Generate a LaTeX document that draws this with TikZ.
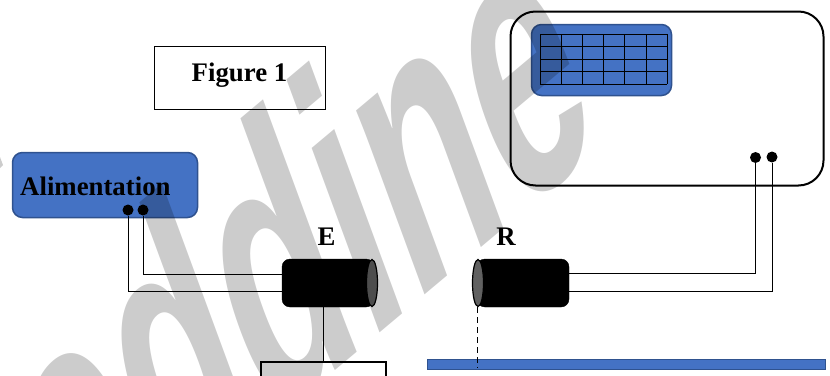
\documentclass[tikz,border=0pt]{standalone}
\usepackage{fontspec}
\setmainfont{Liberation Serif}
\newfontfamily\markfont{Liberation Sans}
\usepackage{tikz}
\usetikzlibrary{shapes.geometric}
\definecolor{panelblue}{HTML}{4472C4}
\definecolor{paneledge}{HTML}{2F528F}
\tikzset{
  label/.style={font=\fontsize{26.8}{30}\selectfont\bfseries, inner sep=0pt},
  panel/.style={draw=paneledge, fill=panelblue, line width=1.5pt, rounded corners=10pt, inner sep=0pt},
  wire/.style={line width=1pt},
  pin/.style={circle, fill=black, minimum size=11pt, inner sep=0pt},
  tube/.style={draw=black, fill=black, rounded corners=8pt, minimum width=92pt, minimum height=48pt, inner sep=0pt},
  tubecap/.style={ellipse, draw=black, fill=black!62, line width=1.2pt, minimum width=11pt, minimum height=47pt, inner sep=0pt}
}
\begin{document}
\begin{tikzpicture}[x=1pt,y=-1pt]
             \useasboundingbox (0,0) rectangle (830,375);

             \node[draw, line width=.8pt, minimum width=171pt, minimum height=63pt, inner sep=0pt] (fig) at (240, 77.5) {};
             \node[label, anchor=base] (figtext) at (239.5, 81.5) {Figure 1};

             \node[panel, minimum width=185pt, minimum height=65pt] (alim) at (105, 185) {};
             \node[label, anchor=base west] (alimtext) at (20, 195) {Alimentation};
             \node[pin] (pa) at (128, 210) {};
             \node[pin] (pb) at (143, 210) {};

             \node[tube] (em) at (328, 283) {};
             \node[tubecap] (emcap) at (372, 283) {};
             \node[tube] (re) at (523, 283) {};
             \node[tubecap] (recap) at (478, 283) {};
             \node[label, anchor=base] (etext) at (326.5, 245) {E};
             \node[label, anchor=base] (rtext) at (506, 245) {R};

             \node[draw, line width=2pt, rounded corners=25pt, minimum width=313pt, minimum height=174pt, inner sep=0pt] (screen) at (667, 98.5) {};
             \node[panel, minimum width=140pt, minimum height=71pt] (disp) at (601.5, 60) {};
             \foreach \i in {0,...,6}
               \draw[line width=.8pt] (540+\i*21.2, 34) -- (540+\i*21.2, 84.4);
             \foreach \j in {0,...,4}
               \draw[line width=.8pt] (540, 34+\j*12.6) -- (667.2, 34+\j*12.6);
             \node[pin] (pc) at (755.5, 157.5) {};
             \node[pin] (pd) at (772, 157) {};

             \node[draw, line width=1.6pt, minimum width=125pt, minimum height=40pt, inner sep=0pt, anchor=north west] (box) at (260, 361) {};
             \node[draw=paneledge, fill=panelblue, line width=1.5pt, minimum width=398pt, minimum height=10pt, inner sep=0pt, anchor=north west] (bar) at (426.5, 358.5) {};

             \coordinate (e1) at (283, 274);
             \coordinate (e2) at (283, 291);
             \coordinate (r1) at (569, 273);
             \coordinate (r2) at (569, 291);
             \coordinate (d1) at (477, 307);
             \coordinate (d2) at (477, 368);
             \coordinate (s1) at (323, 307);
             \coordinate (s2) at (323, 361);
             \draw[wire] (pa) |- (e2);
             \draw[wire] (pb) |- (e1);
             \draw[wire] (r1) -| (pc);
             \draw[wire] (r2) -| (pd);
             \draw[wire] (s1) -- (s2);
             \draw[wire, dash pattern=on 6pt off 4pt] (d1) -- (d2);

             % watermark
             \node[text=black!20, font=\markfont\bfseries\fontsize{350}{350}\selectfont, anchor=base west, rotate=40, xslant=.36, xscale=.614, transform shape, blend mode=multiply, inner sep=0pt] (mark) at (75.3, 588.4) {eddine};
             \fill[black!20] (0,157) -- (3,165) -- (0,168) -- cycle;
             \end{tikzpicture}
\end{document}
